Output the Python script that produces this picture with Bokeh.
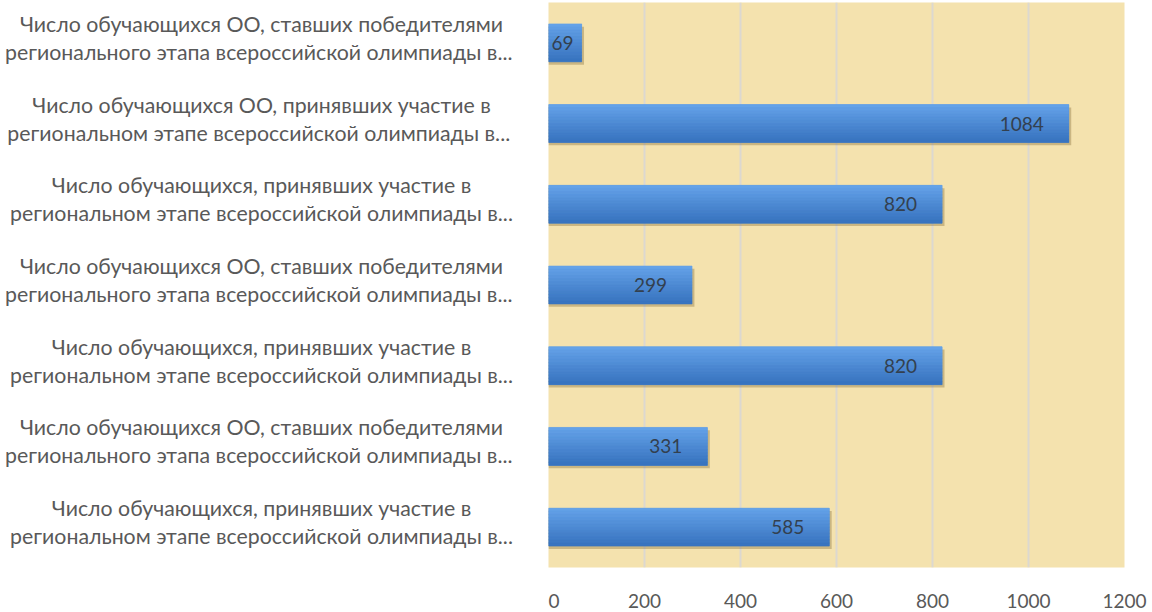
from bokeh.plotting import figure
from bokeh.models import Range1d, FixedTicker, ColumnDataSource
from bokeh.layouts import row
from bokeh.core.properties import value
from bokeh.embed import file_html
from bokeh.resources import INLINE

# ---- data (top to bottom) ----
label_line1 = [
    "Число обучающихся ОО, ставших победителями",
    "Число обучающихся ОО, принявших участие в",
    "Число обучающихся, принявших участие в",
    "Число обучающихся ОО, ставших победителями",
    "Число обучающихся, принявших участие в",
    "Число обучающихся ОО, ставших победителями",
    "Число обучающихся, принявших участие в",
]
label_line2 = [
    "регионального этапа всероссийской олимпиады  в...",
    "региональном этапе всероссийской олимпиады  в...",
    "региональном этапе всероссийской олимпиады в...",
    "регионального этапа всероссийской олимпиады  в...",
    "региональном этапе всероссийской олимпиады в...",
    "регионального этапа всероссийской олимпиады  в...",
    "региональном этапе всероссийской олимпиады в...",
]
values = [69, 1084, 820, 299, 820, 331, 585]
x_ticks = [0, 200, 400, 600, 800, 1000, 1200]

FONT = "Lato"
TXT = "#595959"
n = len(values)
ypos = [n - 1 - i for i in range(n)]  # top item at top
yr = Range1d(-0.5, n - 0.5)

H = 610
TOP = 2
BOTTOM = 42

# ---- label figure ----
LW = 548
lab = figure(width=LW, height=H, x_range=Range1d(0, LW), y_range=yr,
             output_backend="svg", toolbar_location=None,
             min_border_left=0, min_border_right=0, min_border_top=TOP,
             min_border_bottom=BOTTOM)
lab.axis.visible = False
lab.grid.visible = False
lab.outline_line_color = None
lab.background_fill_color = "white"
src_lab = ColumnDataSource(dict(y=ypos, l1=label_line1, l2=label_line2,
                                x=[261] * n))
lab.text(x="x", y="y", text="l1", source=src_lab, text_align="center",
         text_baseline="middle", y_offset=-19, text_font=value(FONT),
         text_font_size="21.3px", text_color=TXT)
lab.text(x="x", y="y", text="l2", source=src_lab, text_align="center",
         text_baseline="middle", y_offset=9, text_font=value(FONT),
         text_font_size="21.3px", text_color=TXT)

# ---- chart figure ----
p = figure(width=604, height=H, x_range=Range1d(0, 1200), y_range=yr,
           output_backend="svg", toolbar_location=None,
           min_border_left=0, min_border_right=28, min_border_top=TOP,
           min_border_bottom=BOTTOM)
p.background_fill_color = "#F4E2AE"
p.border_fill_color = "white"
p.outline_line_color = None
p.yaxis.visible = False
p.ygrid.visible = False
p.xgrid.ticker = FixedTicker(ticks=x_ticks)
p.xgrid.grid_line_color = "#DCD8D0"
p.xgrid.grid_line_width = 2
p.xaxis.ticker = FixedTicker(ticks=x_ticks)
p.xaxis.axis_line_color = None
p.xaxis.major_tick_line_color = None
p.xaxis.minor_tick_line_color = None
p.xaxis.major_label_standoff = 20
p.xaxis.major_label_text_font = FONT
p.xaxis.major_label_text_font_size = "19px"
p.xaxis.major_label_text_color = TXT

bh = 0.47
shadow_y = [y - 0.035 for y in ypos]
p.hbar(y=shadow_y, left=0, right=[v + 5 for v in values], height=bh,
       fill_color="#6B4E1E", fill_alpha=0.30, line_color=None)

# base bar, then a simulated vertical gradient on top of it
p.hbar(y=ypos, left=0, right=values, height=bh, fill_color="#4D8CD6",
       line_color=None)
top_rgb = (0x64, 0xA2, 0xE8)
bot_rgb = (0x38, 0x74, 0xC0)
steps = 12
for k in range(steps):
    t = k / (steps - 1)
    col = "#%02x%02x%02x" % tuple(int(a + (b - a) * t) for a, b in zip(top_rgb, bot_rgb))
    centre = bh / 2 - (k + 0.5) * bh / steps
    p.hbar(y=[y + centre for y in ypos], left=0, right=values,
           height=bh / steps, fill_color=col, line_color=col, line_width=0.6)

# value labels: inside end, clamped to the start for short bars
lx, la, lo = [], [], []
for v in values:
    if v < 120:
        lx.append(0); la.append("left"); lo.append(3)
    else:
        lx.append(v); la.append("right"); lo.append(-25)
src_v = ColumnDataSource(dict(x=lx, y=ypos, t=[str(v) for v in values],
                              a=la, o=lo))
p.text(x="x", y="y", text="t", source=src_v, text_align="a", x_offset="o",
       text_baseline="middle", text_font=value(FONT), text_font_size="19px",
       text_color="#33404F")

layout = row(lab, p, spacing=0)
open("out.html", "w").write(file_html(layout, INLINE))
